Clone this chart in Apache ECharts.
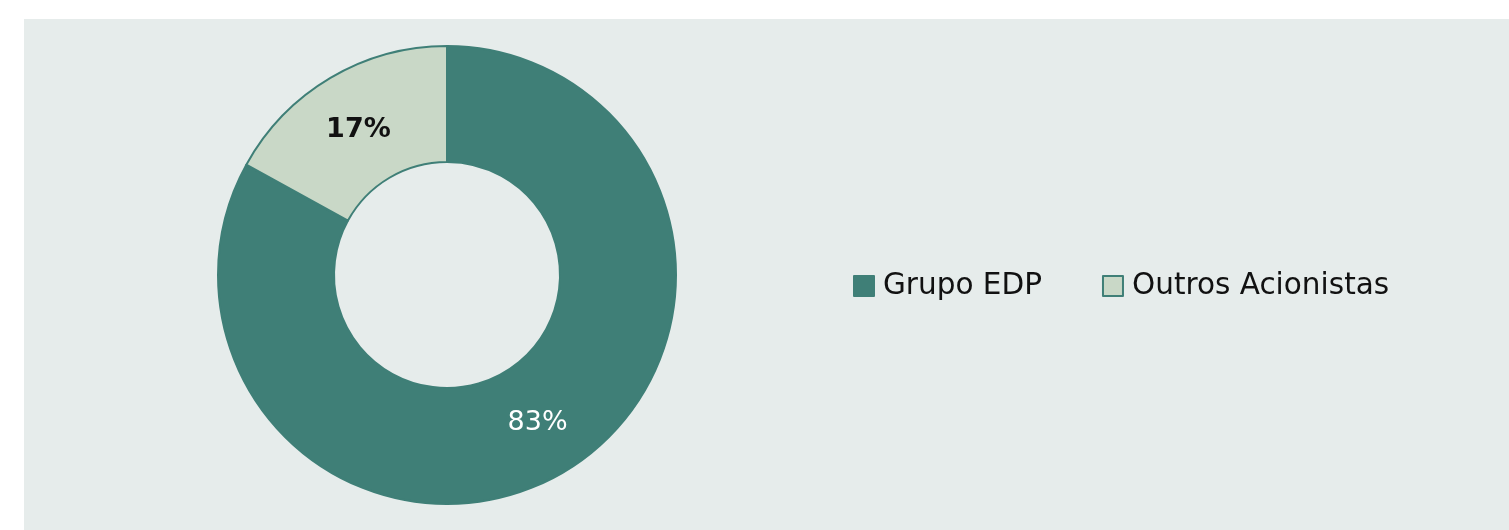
<!DOCTYPE html>
<html>
<head>
<meta charset="utf-8">
<style>
  html, body { margin: 0; padding: 0; background: #fff; }
  #chart { width: 1509px; height: 530px; }
</style>
<script src="https://cdn.jsdelivr.net/npm/echarts@6/dist/echarts.min.js"></script>
</head>
<body>
<div id="chart"></div>
<script>
// shareholder structure
const names = ['Grupo EDP', 'Outros Acionistas'];
const shares = [83, 17];
const colors = ['#3f7f77', '#c9d8c7'];
const labelColors = ['#ffffff', '#111111'];

const teal = '#3f7f77';
const chart = echarts.init(document.getElementById('chart'));

chart.setOption({
  backgroundColor: '#ffffff',
  textStyle: { fontFamily: '"DejaVu Sans", sans-serif' },
  graphic: [{
    type: 'rect',
    z: -10,
    shape: { x: 24, y: 19, width: 1485, height: 511 },
    style: { fill: '#e6eceb' },
  }],
  legend: {
    left: 848,
    top: 266,
    orient: 'horizontal',
    icon: 'rect',
    itemWidth: 20,
    itemHeight: 20,
    itemGap: 60,
    textStyle: { fontSize: 29.5, color: '#111', padding: [0, 0, 0, 4] },
    data: names.map((n, i) => ({
      name: n,
      itemStyle: { color: colors[i], borderColor: teal, borderWidth: 2 },
    })),
  },
  series: [{
    type: 'pie',
    center: [447, 275],
    radius: [113, 229],
    startAngle: 90,
    clockwise: true,
    avoidLabelOverlap: false,
    itemStyle: { borderColor: teal, borderWidth: 2 },
    label: {
      show: true,
      position: 'inside',
      fontSize: 27,
      formatter: '{c}%',
    },
    labelLine: { show: false },
    emphasis: { disabled: true },
    data: names.map((n, i) => ({
      name: n,
      value: shares[i],
      itemStyle: { color: colors[i] },
      label: {
        color: labelColors[i],
        fontWeight: i === 0 ? 500 : 700,
        offset: i === 0 ? [2, -2] : [0, 5],
      },
    })),
  }],
});
</script>
</body>
</html>
